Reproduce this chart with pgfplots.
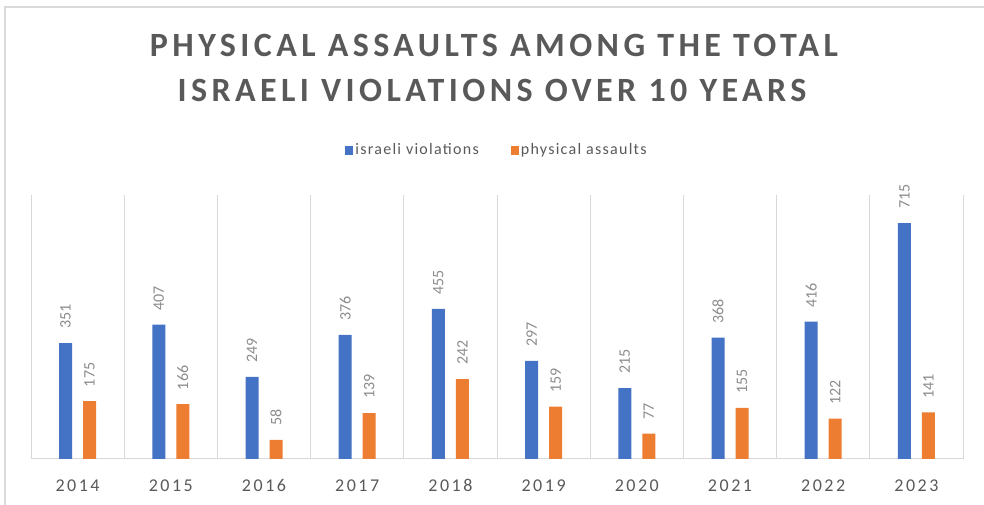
\documentclass[border=0pt]{standalone}
\usepackage{fontspec}
\setmainfont{Carlito}
\newfontfamily\titlefont[LetterSpace=13]{Carlito}
\newfontfamily\tickfont[LetterSpace=14]{Carlito}
\newfontfamily\legfont[LetterSpace=8]{Carlito}
\usepackage{pgfplots}
\pgfplotsset{compat=1.18}
\definecolor{cblue}{HTML}{4472C4}
\definecolor{corange}{HTML}{ED7D31}
\definecolor{ctitle}{HTML}{595959}
\definecolor{cgrid}{HTML}{D9D9D9}
\definecolor{clabel}{HTML}{8C8C8C}
\begin{document}
\begin{tikzpicture}[x=1bp,y=1bp]
\useasboundingbox (0,0) rectangle (984,505);
\draw[cgrid, line width=2bp] (5,0) -- (5,498) -- (984,498);
\node[anchor=base, text=ctitle, inner sep=0] at (494,448) {\titlefont\bfseries\fontsize{34bp}{40bp}\selectfont PHYSICAL ASSAULTS AMONG THE TOTAL};
\node[anchor=base, text=ctitle, inner sep=0] at (492,403) {\titlefont\bfseries\fontsize{34bp}{40bp}\selectfont ISRAELI VIOLATIONS OVER 10 YEARS};
\begin{axis}[
  at={(31bp,46bp)}, anchor=south west,
  scale only axis, width=932bp, height=264bp,
  ymin=0, ymax=800,
  xmin=-0.5, xmax=9.5,
  ybar, bar width=13bp,
  axis x line*=bottom, axis y line=none,
  x axis line style={cgrid, line width=1bp, -},
  xtick={0,...,9},
  xticklabels={2014,2015,2016,2017,2018,2019,2020,2021,2022,2023},
  minor xtick={-0.5,0.5,...,9.5},
  xminorgrids, minor grid style={cgrid, line width=1bp},
  major tick length=0, minor tick length=0,
  xticklabel style={font=\tickfont\fontsize{18bp}{20bp}\selectfont, text=ctitle, inner sep=0, anchor=base, yshift=-33bp},
  /pgf/number format/assume math mode=true,
  nodes near coords,
  every node near coord/.append style={rotate=90, anchor=west, inner xsep=14bp, inner ysep=0, font=\fontsize{16bp}{18bp}\selectfont, text=clabel},
  legend columns=2,
  legend style={at={(0.5,1.17)}, anchor=center, draw=none, fill=none, font=\legfont\fontsize{16bp}{18bp}\selectfont, text=ctitle,
    /tikz/every even column/.append style={column sep=30bp}},
  legend image code/.code={\fill[#1] (0bp,-4.5bp) rectangle (8bp,4.5bp);},
]
\addplot[fill=cblue, draw=none, bar shift=-12bp] coordinates {(0,351) (1,407) (2,249) (3,376) (4,455) (5,297) (6,215) (7,368) (8,416) (9,715)};
\addlegendentry{israeli violations}
\addplot[fill=corange, draw=none, bar shift=12bp] coordinates {(0,175) (1,166) (2,58) (3,139) (4,242) (5,159) (6,77) (7,155) (8,122) (9,141)};
\addlegendentry{physical assaults}
\end{axis}
\end{tikzpicture}
\end{document}
